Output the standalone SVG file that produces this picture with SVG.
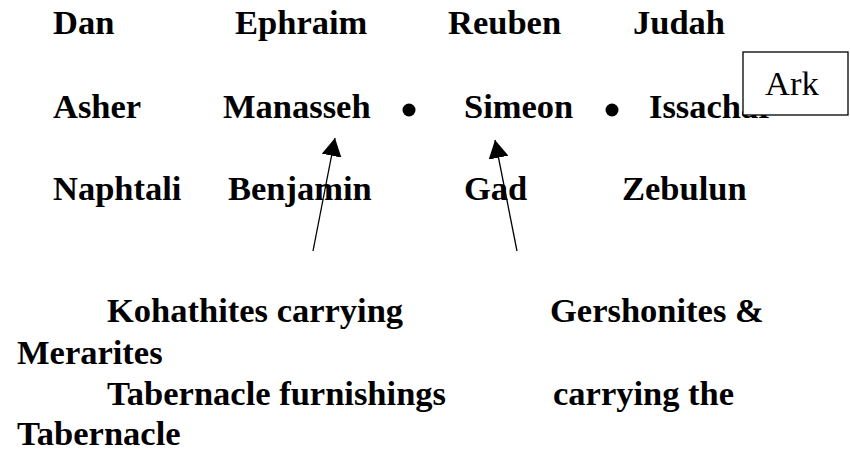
<svg xmlns="http://www.w3.org/2000/svg" width="850" height="453" viewBox="0 0 850 453">
<style>
.t{font-family:"Liberation Serif","Times New Roman",serif;font-size:34.5px;fill:#000}
.b{font-weight:bold}
.c{stroke:#000;stroke-width:1.3;fill:none}
</style>
<defs>
<marker id="ah" viewBox="0 0 18 20" refX="18" refY="10" markerWidth="18" markerHeight="20" markerUnits="userSpaceOnUse" orient="auto">
<path d="M0,0 L18,10 L0,20 Z" fill="#000"/>
</marker>
</defs>
<rect width="850" height="453" fill="#fff"/>
<g id="row1" class="t b">
<text x="53" y="34">Dan</text>
<text x="235" y="34">Ephraim</text>
<text x="448" y="34">Reuben</text>
<text x="633" y="34">Judah</text>
</g>
<g id="row2" class="t b">
<text x="53" y="118">Asher</text>
<text x="223" y="118">Manasseh</text>
<circle cx="409" cy="110" r="6.5" fill="#000"/>
<text x="464" y="118">Simeon</text>
<circle cx="612" cy="110" r="6.5" fill="#000"/>
<text x="649" y="118">Issachar</text>
</g>
<g id="ark">
<rect x="743" y="52" width="105" height="63" fill="#fff" stroke="#000" stroke-width="1.3"/>
<text class="t" x="765" y="95">Ark</text>
</g>
<g id="row3" class="t b">
<text x="53" y="200">Naphtali</text>
<text x="228" y="200">Benjamin</text>
<text x="464" y="200">Gad</text>
<text x="622" y="200">Zebulun</text>
</g>
<g id="connectors" class="c">
<line x1="313" y1="251" x2="335" y2="138" marker-end="url(#ah)"/>
<line x1="517" y1="251" x2="495" y2="140" marker-end="url(#ah)"/>
</g>
<g id="labels" class="t b">
<text x="107" y="322">Kohathites carrying</text>
<text x="550" y="322">Gershonites &amp;</text>
<text x="17" y="364">Merarites</text>
<text x="107" y="405">Tabernacle furnishings</text>
<text x="553" y="405">carrying the</text>
<text x="17" y="445">Tabernacle</text>
</g>
</svg>
